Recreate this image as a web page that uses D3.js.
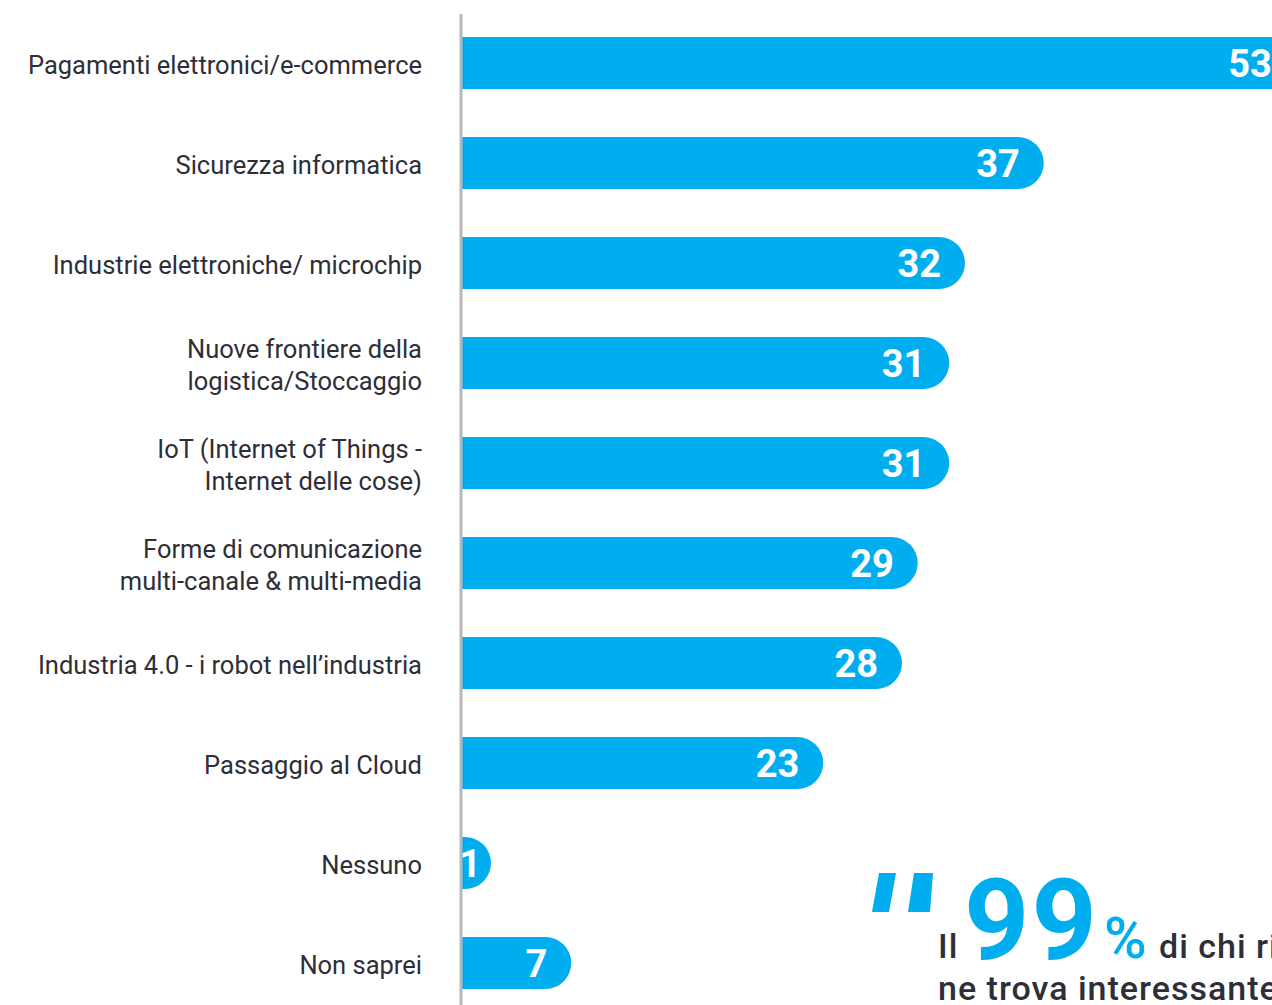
<!DOCTYPE html>
<html>
<head>
<meta charset="utf-8">
<script src="https://cdn.jsdelivr.net/npm/d3@7"></script>
<style>
html,body{margin:0;padding:0;background:#fff;overflow:hidden;}
svg{display:block;}
</style>
</head>
<body>
<svg id="chart" width="1272" height="1005"></svg>
<script>
const categories = [
  ["Pagamenti elettronici/e-commerce"],
  ["Sicurezza informatica"],
  ["Industrie elettroniche/ microchip"],
  ["Nuove frontiere della", "logistica/Stoccaggio"],
  ["IoT (Internet of Things -", "Internet delle cose)"],
  ["Forme di comunicazione", "multi-canale & multi-media"],
  ["Industria 4.0 - i robot nell\u2019industria"],
  ["Passaggio al Cloud"],
  ["Nessuno"],
  ["Non saprei"]
];
const values = [53, 37, 32, 31, 31, 29, 28, 23, 1, 7];
const quoteNumber = "99";
const quoteLine1 = "di chi ritiene";
const quoteLine2 = "ne trova interessante";

const svg = d3.select("#chart");
const W = 1272, H = 1005;
const x0 = 461;
const blue = "#00aeef";
const dark = "#2e2e38";
const keys = categories.map((c, i) => i);

const y = d3.scaleBand().domain(keys).range([13, 1013]).paddingInner(0.48).paddingOuter(0.24);
const x = d3.scaleLinear().domain([0, 53]).range([x0, x0 + 53 * 15.75]);
const minLen = 30;
const barEnd = v => Math.max(x(v), x0 + minLen);

svg.append("clipPath").attr("id", "plotclip")
  .append("rect").attr("x", x0).attr("y", 0).attr("width", W - x0).attr("height", H);

const g = svg.append("g").attr("clip-path", "url(#plotclip)");

function barPath(v, i) {
  const xs = x(0), xe = barEnd(v), yt = y(i), h = y.bandwidth(), r = h / 2;
  return `M${xs},${yt} L${xe - r},${yt} A${r},${r} 0 0 1 ${xe - r},${yt + h} L${xs},${yt + h} Z`;
}

g.selectAll("path.bar").data(values).join("path")
  .attr("class", "bar")
  .attr("d", (v, i) => barPath(v, i))
  .attr("fill", blue);

g.selectAll("text.val").data(values).join("text")
  .attr("class", "val")
  .attr("x", v => Math.max(barEnd(v) - 24, x0 + 20))
  .attr("y", (v, i) => y(i) + y.bandwidth() / 2)
  .attr("dy", "0.36em")
  .attr("text-anchor", "end")
  .attr("fill", "#fff")
  .style("font-family", "Roboto, 'Open Sans', sans-serif")
  .style("font-weight", 700)
  .style("font-size", "38px")
  .text(v => v);

// axis line
svg.append("line")
  .attr("x1", x0).attr("x2", x0).attr("y1", 14).attr("y2", H)
  .attr("stroke", "#b8b8bc").attr("stroke-width", 3);

// category labels
const lab = svg.selectAll("text.cat").data(categories).join("text")
  .attr("class", "cat")
  .attr("text-anchor", "end")
  .attr("fill", dark)
  .style("font-family", "Roboto, 'Open Sans', sans-serif")
  .style("font-size", "25.5px")
  .style("font-weight", 400);
lab.each(function(lines, i) {
  const n = lines.length;
  const cy = y(i) + y.bandwidth() / 2 + 2;
  d3.select(this).selectAll("tspan").data(lines).join("tspan")
    .attr("x", 422)
    .attr("y", (d, k) => cy + (k - (n - 1) / 2) * 32)
    .attr("dy", "0.36em")
    .text(d => d);
});

// quote decoration
const q = svg.append("g");
q.append("path").attr("d", "M879,873 L896,873 L889,912 L872,912 Z").attr("fill", blue);
q.append("path").attr("d", "M914,873 L933,873 L930,912 L908,912 Z").attr("fill", blue);

const txtStyle = sel => sel
  .attr("fill", dark)
  .style("font-family", "Roboto, sans-serif").style("font-size", "34px").style("font-weight", 500)
  .style("letter-spacing", "1px");

q.append("text").attr("x", 938).attr("y", 958).call(txtStyle).text("Il");
q.append("text").attr("x", 964).attr("y", 959)
  .attr("fill", blue)
  .style("font-family", "Roboto, sans-serif").style("font-size", "114px").style("font-weight", 700)
  .style("letter-spacing", "2px")
  .text(quoteNumber);
q.append("text").attr("x", 1104).attr("y", 958)
  .attr("fill", blue)
  .style("font-family", "Roboto, sans-serif").style("font-size", "58px").style("font-weight", 500)
  .text("%");
q.append("text").attr("x", 1159).attr("y", 958).call(txtStyle).text(quoteLine1);
q.append("text").attr("x", 938).attr("y", 1000).call(txtStyle).text(quoteLine2);
</script>
</body>
</html>
